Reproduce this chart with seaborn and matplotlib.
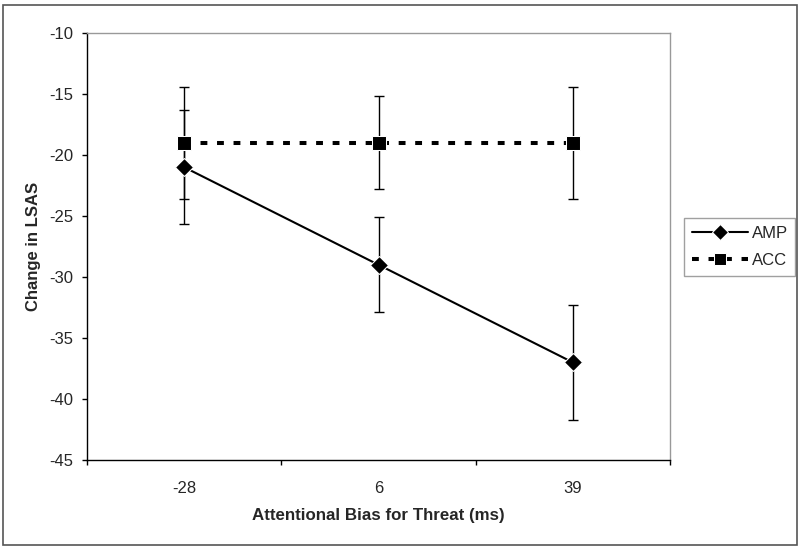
import pandas as pd
import seaborn as sns
import matplotlib.pyplot as plt
from matplotlib.patches import Rectangle

# values
bias_labels = ['-28', '6', '39']
amp_mean = [-21.0, -29.0, -37.0]
amp_err = [4.65, 3.9, 4.7]
acc_mean = [-19.0, -19.0, -19.0]
acc_err = [4.6, 3.8, 4.6]

sns.set_style('white')
plt.rcParams['font.family'] = ['Liberation Sans', 'DejaVu Sans']
plt.rcParams['axes.unicode_minus'] = False

df = pd.DataFrame({
    'bias': bias_labels * 2,
    'change': amp_mean + acc_mean,
    'group': ['AMP'] * 3 + ['ACC'] * 3,
})
df['pos'] = df['bias'].map({b: i for i, b in enumerate(bias_labels)})

fig = plt.figure(figsize=(8, 5.5), dpi=100)
ax = fig.add_axes([87 / 800, 1 - 460 / 550, 583 / 800, 427 / 550])

# error bars first so markers sit on top
for mean, err in [(amp_mean, amp_err), (acc_mean, acc_err)]:
    ax.errorbar(range(len(bias_labels)), mean, yerr=err, fmt='none',
                ecolor='black', elinewidth=1, capsize=3.3, capthick=1, zorder=2)

sns.lineplot(data=df, x='pos', y='change', hue='group', style='group',
             palette={'AMP': 'black', 'ACC': 'black'},
             markers={'AMP': 'D', 'ACC': 's'},
             dashes={'AMP': '', 'ACC': (1.7, 2.4)},
             ax=ax, zorder=3)

for line in ax.get_lines():
    if line.get_marker() == 's':
        line.set_linewidth(2.9)
        line.set_markersize(9.5)
        line.set_dash_capstyle('butt')
    elif line.get_marker() == 'D':
        line.set_linewidth(1.5)
        line.set_markersize(9)

ax.set_xlim(-0.5, 2.5)
ax.set_ylim(-45, -10)
ax.set_yticks(range(-45, -9, 5))
ax.set_xticks([0, 1, 2])
ax.set_xticklabels(bias_labels)
ax.set_xticks([-0.5, 0.5, 1.5, 2.5], minor=True)
ax.tick_params(axis='x', which='major', length=0, pad=15, labelsize=12)
ax.tick_params(axis='x', which='minor', length=3.6, width=1, color='black', direction='out')
ax.tick_params(axis='y', length=3.6, width=1, color='black', direction='out', labelsize=12, pad=6)
ax.tick_params(bottom=True, left=True, which='both')

ax.set_xlabel('Attentional Bias for Threat (ms)', fontsize=12.2, fontweight='bold', labelpad=9)
ax.set_ylabel('Change in LSAS', fontsize=12, fontweight='bold', labelpad=6)

for side in ['left', 'bottom']:
    ax.spines[side].set_color('black')
    ax.spines[side].set_linewidth(1)
for side in ['top', 'right']:
    ax.spines[side].set_color('#999999')
    ax.spines[side].set_linewidth(1)

handles, labels = ax.get_legend_handles_labels()
ax.legend(handles, labels, loc='upper left', bbox_to_anchor=(684 / 800, 1 - 218 / 550),
          bbox_transform=fig.transFigure, fontsize=12, frameon=True, fancybox=False,
          edgecolor='#888888', handlelength=3.4, handletextpad=0.2, borderpad=0.45,
          labelspacing=0.75, borderaxespad=0, markerscale=0.85)

fig.patches.append(Rectangle((3 / 800, 5 / 550), 794 / 800, 540 / 550, transform=fig.transFigure,
                             fill=False, edgecolor='#555555', linewidth=1.2))

fig.savefig('out.png', dpi=100)
